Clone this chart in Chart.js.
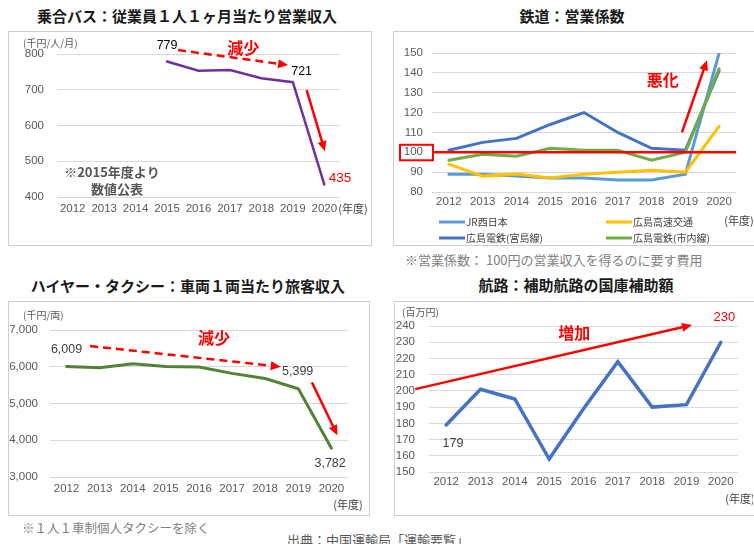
<!DOCTYPE html>
<html lang="ja">
<head>
<meta charset="utf-8">
<title>中国運輸局「運輸要覧」</title>
<script src="https://cdn.jsdelivr.net/npm/chart.js@4.4.1/dist/chart.umd.min.js"></script>
<style>
body { margin: 0; width: 754px; height: 544px; background: #fff; position: relative; overflow: hidden; font-family: 'Noto Sans CJK JP', sans-serif; }
.title { position: absolute; font-weight: bold; font-size: 15px; line-height: 20px; color: #1a1a1a; text-align: center; white-space: nowrap; }
.box { position: absolute; border: 1px solid #cfcfcf; box-sizing: border-box; }
canvas { position: absolute; }
.note { position: absolute; white-space: nowrap; color: #7f7f7f; font-size: 13px; line-height: 16px; }
</style>
</head>
<body>
<div class="title" style="left:0;top:6px;width:374px;">乗合バス：従業員１人１ヶ月当たり営業収入</div>
<div class="title" style="left:392px;top:6px;width:360px;">鉄道：営業係数</div>
<div class="title" style="left:0;top:276px;width:376px;">ハイヤー・タクシー：車両１両当たり旅客収入</div>
<div class="title" style="left:396px;top:275px;width:360px;">航路：補助航路の国庫補助額</div>

<div class="box" style="left:8px;top:31px;width:364px;height:215px;"></div>
<div class="box" style="left:393px;top:31px;width:362px;height:215px;"></div>
<div class="box" style="left:8px;top:301px;width:362px;height:215px;"></div>
<div class="box" style="left:394px;top:301px;width:361px;height:215px;"></div>

<canvas id="busChart" width="364" height="215" style="left:8px;top:31px;"></canvas>
<canvas id="railChart" width="360" height="215" style="left:393px;top:31px;"></canvas>
<canvas id="taxiChart" width="370" height="215" style="left:0;top:301px;"></canvas>
<canvas id="ferryChart" width="369" height="215" style="left:384px;top:301px;"></canvas>

<div class="note" style="left:405px;top:252px;">※営業係数： 100円の営業収入を得るのに要す費用</div>
<div class="note" style="left:22px;top:520px;font-size:12.5px;">※１人１車制個人タクシーを除く</div>
<div class="note" style="left:0;top:532px;width:756px;text-align:center;color:#595959;">出典：中国運輸局「運輸要覧」</div>

<script>
const years = ['2012', '2013', '2014', '2015', '2016', '2017', '2018', '2019', '2020'];

// 乗合バス（千円/人/月）
const busRevenue = [null, null, null, 779, 753, 755, 732, 721, 435];

// 鉄道 営業係数
const railNames = ['JR西日本', '広島高速交通', '広島電鉄(宮島線)', '広島電鉄(市内線)'];
const jrWest = [89, 89, 88, 87, 87, 86, 86, 89, 150];
const hiroshimaRapid = [94, 88, 89, 87, 89, 90, 91, 90, 113];
const miyajimaLine = [101, 105, 107, 114, 120, 110, 102, 101, 141];
const cityLine = [96, 99, 98, 102, 101, 101, 96, 100, 142];

// ハイヤー・タクシー（千円/両）
const taxiRevenue = [6009, 5975, 6080, 6010, 5990, 5820, 5680, 5399, 3782];

// 航路（百万円）
const ferrySubsidy = [179, 201, 195, 158, 189, 218, 190, 191.5, 230];

const RED = '#ff0000';
const SANS = "'Liberation Sans', Arial, sans-serif";
const JP = "'Noto Sans CJK JP', sans-serif";

Chart.defaults.font.family = SANS;

function drawArrow(ctx, x1, y1, x2, y2, dashed) {
    const ang = Math.atan2(y2 - y1, x2 - x1);
    const head = 10, half = 4.5;
    const cos = Math.cos(ang), sin = Math.sin(ang);
    ctx.save();
    ctx.strokeStyle = RED;
    ctx.fillStyle = RED;
    ctx.lineWidth = 2.5;
    if (dashed) ctx.setLineDash([8, 5]);
    ctx.beginPath();
    ctx.moveTo(x1, y1);
    ctx.lineTo(x2 - cos * head * 0.8, y2 - sin * head * 0.8);
    ctx.stroke();
    ctx.setLineDash([]);
    ctx.beginPath();
    ctx.moveTo(x2, y2);
    ctx.lineTo(x2 - head * cos + half * sin, y2 - head * sin - half * cos);
    ctx.lineTo(x2 - head * cos - half * sin, y2 - head * sin + half * cos);
    ctx.closePath();
    ctx.fill();
    ctx.restore();
}

function notesPlugin(notes) {
    return {
        id: 'notes',
        afterDraw(chart) {
            const ctx = chart.ctx;
            const x = chart.scales.x, y = chart.scales.y, a = chart.chartArea;
            (notes.arrows || []).forEach(function(ar) {
                drawArrow(ctx, x.getPixelForValue(ar.from[0]), y.getPixelForValue(ar.from[1]),
                    x.getPixelForValue(ar.to[0]), y.getPixelForValue(ar.to[1]), ar.dashed);
            });
            ctx.save();
            ctx.textAlign = 'center';
            ctx.textBaseline = 'middle';
            (notes.texts || []).forEach(function(t) {
                ctx.font = t.font;
                ctx.fillStyle = t.color;
                ctx.fillText(t.text, x.getPixelForValue(t.i), y.getPixelForValue(t.v));
            });
            ctx.fillStyle = '#595959';
            ctx.font = '10px ' + JP;
            if (notes.unit) {
                ctx.textAlign = 'left';
                ctx.fillText(notes.unit.text, a.left + notes.unit.dx, a.top + notes.unit.dy);
            }
            ctx.fillStyle = '#404040';
            ctx.font = '11px ' + JP;
            ctx.textAlign = 'center';
            ctx.fillText('(年度)', a.right + notes.year.dx, a.bottom + notes.year.dy);
            ctx.restore();
        }
    };
}

function lineOptions(p) {
    return {
        responsive: false,
        animation: false,
        layout: { padding: p.pad },
        plugins: { legend: { display: false }, tooltip: { enabled: false } },
        scales: {
            x: {
                offset: true,
                grid: { display: false, drawTicks: false },
                border: { display: false },
                ticks: { color: '#595959', font: { size: 11.5 }, padding: p.xPad, maxRotation: 0, autoSkip: false },
                afterFit: function(s) { s.height = 25; }
            },
            y: {
                min: p.min,
                max: p.max,
                grid: { color: '#d9d9d9', drawTicks: false },
                border: { display: false },
                ticks: {
                    stepSize: p.step,
                    autoSkip: false,
                    color: '#595959',
                    font: { size: 11.5 },
                    padding: p.yPad,
                    callback: function(v) { return v.toLocaleString('en-US'); }
                },
                // the axis box also clips its labels, so it spans from the canvas edge
                afterFit: function(s) { s.width = p.yWidth; }
            }
        }
    };
}

function lineSet(label, data, color, width, order) {
    return {
        label: label,
        data: data,
        borderColor: color,
        backgroundColor: color,
        borderWidth: width,
        pointRadius: 0,
        tension: 0,
        borderCapStyle: 'round',
        order: order || 0
    };
}

// 乗合バス
new Chart(document.getElementById('busChart'), {
    type: 'line',
    data: { labels: years, datasets: [lineSet('乗合バス', busRevenue, '#7030a0', 2.5)] },
    options: lineOptions({ pad: { left: 0, right: 32, top: 23, bottom: 24 }, min: 400, max: 800, step: 100, yWidth: 49, yPad: 13, xPad: 5 }),
    plugins: [notesPlugin({
        unit: { text: '(千円/人/月)', dx: -34, dy: -11 },
        year: { dx: 13, dy: 12 },
        texts: [
            { text: '779', i: 3.0, v: 825, color: '#000', font: '12.5px ' + SANS },
            { text: '減少', i: 5.42, v: 818, color: RED, font: 'bold 16px ' + JP },
            { text: '721', i: 7.28, v: 752, color: '#000', font: '12.5px ' + SANS },
            { text: '435', i: 8.5, v: 453, color: RED, font: '13.5px ' + SANS },
            { text: '※2015年度より', i: 1.25, v: 470, color: '#555', font: 'bold 13px ' + JP },
            { text: '数値公表', i: 1.41, v: 422, color: '#555', font: 'bold 13px ' + JP }
        ],
        arrows: [
            { from: [3.35, 811], to: [6.85, 769], dashed: true },
            { from: [7.44, 699], to: [8.02, 528] }
        ]
    })]
});

// 鉄道
const railColors = ['#5b9bd5', '#ffc000', '#4472c4', '#70ad47'];
const railSeries = [jrWest, hiroshimaRapid, miyajimaLine, cityLine];

const railExtras = {
    id: 'railExtras',
    afterDatasetsDraw(chart) {
        const ctx = chart.ctx, a = chart.chartArea, y = chart.scales.y;
        const y100 = y.getPixelForValue(100);
        ctx.save();
        ctx.strokeStyle = RED;
        ctx.lineWidth = 2.5;
        ctx.beginPath();
        ctx.moveTo(a.left, y100);
        ctx.lineTo(a.right, y100);
        ctx.stroke();
        ctx.lineWidth = 2;
        ctx.strokeRect(a.left - 32, y100 - 7.5, 33, 15.5);
        ctx.restore();
    },
    afterDraw(chart) {
        const ctx = chart.ctx, a = chart.chartArea;
        const cols = [a.left + 7, a.left + 174];
        const rows = [a.bottom + 30, a.bottom + 46];
        ctx.save();
        ctx.font = '10px ' + JP;
        ctx.textBaseline = 'middle';
        ctx.textAlign = 'left';
        railNames.forEach(function(name, k) {
            const cx = cols[k % 2], cy = rows[Math.floor(k / 2)];
            ctx.strokeStyle = railColors[k];
            ctx.lineWidth = 3;
            ctx.beginPath();
            ctx.moveTo(cx, cy);
            ctx.lineTo(cx + 26, cy);
            ctx.stroke();
            ctx.fillStyle = '#404040';
            ctx.fillText(name, cx + 27, cy);
        });
        ctx.restore();
    }
};

new Chart(document.getElementById('railChart'), {
    type: 'line',
    data: {
        labels: years,
        datasets: railSeries.map(function(s, k) {
            return lineSet(railNames[k], s, railColors[k], 3, [3, 2, 1, 0][k]);
        })
    },
    options: lineOptions({ pad: { left: 0, right: 17, top: 22, bottom: 29 }, min: 80, max: 150, step: 10, yWidth: 39, yPad: 9, xPad: 3 }),
    plugins: [railExtras, notesPlugin({
        year: { dx: 3, dy: 29 },
        texts: [
            { text: '悪化', i: 6.33, v: 136.3, color: RED, font: 'bold 16px ' + JP }
        ],
        arrows: [
            { from: [6.9, 110], to: [7.64, 146.3] }
        ]
    })]
});

// ハイヤー・タクシー
new Chart(document.getElementById('taxiChart'), {
    type: 'line',
    data: { labels: years, datasets: [lineSet('ハイヤー・タクシー', taxiRevenue, '#548235', 3)] },
    options: lineOptions({ pad: { left: 0, right: 22, top: 29, bottom: 14 }, min: 3000, max: 7000, step: 1000, yWidth: 50, yPad: 12, xPad: 5 }),
    plugins: [notesPlugin({
        unit: { text: '(千円/両)', dx: -27, dy: -15 },
        year: { dx: 0, dy: 28 },
        texts: [
            { text: '6,009', i: 0, v: 6455, color: '#404040', font: '12.5px ' + SANS },
            { text: '減少', i: 4.45, v: 6790, color: RED, font: 'bold 16px ' + JP },
            { text: '5,399', i: 6.98, v: 5863, color: '#404040', font: '12.5px ' + SANS },
            { text: '3,782', i: 7.96, v: 3365, color: '#404040', font: '12.5px ' + SANS }
        ],
        arrows: [
            { from: [0.71, 6564], to: [6.47, 6000], dashed: true },
            { from: [7.41, 5574], to: [8.18, 4137] }
        ]
    })]
});

// 航路
new Chart(document.getElementById('ferryChart'), {
    type: 'line',
    data: { labels: years, datasets: [lineSet('航路', ferrySubsidy, '#4472c4', 3.5)] },
    options: lineOptions({ pad: { left: 0, right: 15, top: 25, bottom: 19 }, min: 150, max: 240, step: 10, yWidth: 45, yPad: 14, xPad: 3 }),
    plugins: [notesPlugin({
        unit: { text: '(百万円)', dx: -27, dy: -14 },
        year: { dx: 2, dy: 27 },
        texts: [
            { text: '179', i: 0.2, v: 167.4, color: '#404040', font: '12.5px ' + SANS },
            { text: '230', i: 8.1, v: 245.1, color: RED, font: '13px ' + SANS },
            { text: '増加', i: 3.73, v: 235.5, color: RED, font: 'bold 16px ' + JP }
        ],
        arrows: [
            { from: [-0.9, 201.1], to: [7.16, 240.6] }
        ]
    })]
});
</script>
</body>
</html>
